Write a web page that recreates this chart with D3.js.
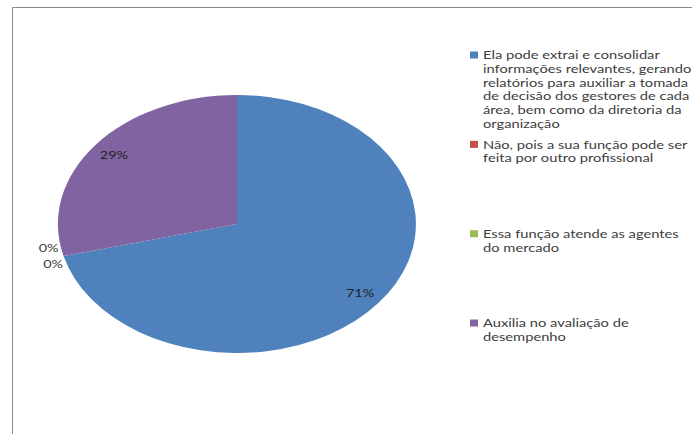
<!DOCTYPE html>
<html>
<head>
<meta charset="utf-8">
<script src="https://cdn.jsdelivr.net/npm/d3@7/dist/d3.min.js"></script>
<style>
  html, body { margin: 0; padding: 0; background: #fff; }
  svg { display: block; }
  text { font-family: Lato, "DejaVu Sans", sans-serif; }
</style>
</head>
<body>
<div id="chart"></div>
<script>
// Answer categories (legend text, already broken into lines)
const categories = [
  ["Ela pode  extrai e consolidar", "informações relevantes, gerando", "relatórios para auxiliar a tomada", "de decisão dos gestores de cada", "área, bem como da diretoria da", "organização"],
  ["Não, pois a sua função pode ser", "feita por outro profissional"],
  ["Essa função atende as agentes", "do mercado"],
  ["Auxilia no avaliação de", "desempenho"]
];
// Share of answers, in percent
const values = [71, 0, 0, 29];
const labels = ["71%", "0%", "0%", "29%"];
const colors = ["#4F81BD", "#C0504D", "#9BBB59", "#8064A2"];

const W = 695, H = 434;
const svg = d3.select("#chart").append("svg")
  .attr("width", W).attr("height", H);

// chart frame (top and left edges)
svg.append("path")
  .attr("d", "M12.5,434 V7.5 H692")
  .attr("fill", "none")
  .attr("stroke", "#8a8a8a")
  .attr("stroke-width", 1);

// pie: drawn as a unit-radius circle, then stretched into an ellipse
const cx = 237, cy = 224, rx = 179, ry = 129;
const pie = d3.pie().sort(null).value(d => d);
const arcs = pie(values);
const arc = d3.arc().innerRadius(0).outerRadius(1);

svg.append("g")
  .attr("transform", `translate(${cx},${cy}) scale(${rx},${ry})`)
  .selectAll("path")
  .data(arcs)
  .join("path")
  .attr("d", arc)
  .attr("fill", (d, i) => colors[i]);

// data labels (text widened a little, like the rest of the chart)
const sx = 1.2;
const inner = d3.arc().innerRadius(0.87).outerRadius(0.87);
const edge = d3.arc().innerRadius(1).outerRadius(1);
const zeroOffsets = [[-5, -8], [-0.5, 8]];
let zi = 0;
arcs.forEach((d, i) => {
  let x, y, anchor;
  if (d.value > 0) {
    const c = inner.centroid(d);
    x = cx + c[0] * rx; y = cy + c[1] * ry; anchor = "middle";
  } else {
    const c = edge.centroid(d);
    const o = zeroOffsets[zi++];
    x = cx + c[0] * rx + o[0]; y = cy + c[1] * ry + o[1]; anchor = "end";
  }
  svg.append("text")
    .attr("transform", `translate(${x},${y}) scale(${sx},1)`)
    .attr("dy", "0.35em")
    .attr("text-anchor", anchor)
    .attr("font-size", 12)
    .attr("fill", d.value > 0 ? "#222" : "#404040")
    .text(labels[i]);
});

// legend
const ly = d3.scaleLinear().domain([0, categories.length - 1]).range([55, 323]);
const lineH = 13.7;
const tx = 483;
const legend = svg.append("g");
categories.forEach((lines, i) => {
  const y0 = ly(i);
  legend.append("rect")
    .attr("x", 470).attr("y", y0 - 3.5)
    .attr("width", 8).attr("height", 7)
    .attr("fill", colors[i]);
  const t = legend.append("text")
    .attr("transform", `translate(${tx},0) scale(1.225,1)`)
    .attr("font-size", 12)
    .attr("fill", "#3d3d3d");
  lines.forEach((s, j) => {
    t.append("tspan")
      .attr("x", 0)
      .attr("y", y0 + j * lineH)
      .attr("dy", "0.35em")
      .text(s);
  });
});
</script>
</body>
</html>
